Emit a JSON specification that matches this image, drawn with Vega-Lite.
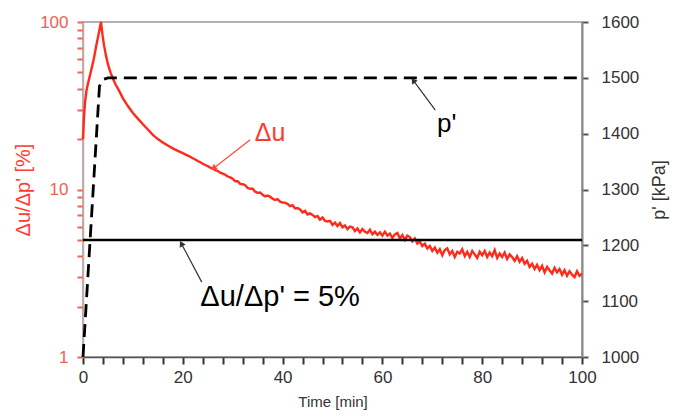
{
  "$schema": "https://vega.github.io/schema/vega-lite/v6.json",
  "width": 499,
  "height": 335,
  "autosize": {"type": "none"},
  "padding": {"left": 83, "top": 22, "right": 98, "bottom": 58},
  "config": {
    "font": "Liberation Sans",
    "view": {"stroke": "#999", "strokeWidth": 1.5},
    "axis": {"ticks": true, "tickSize": 7, "tickWidth": 2, "tickOpacity": 1}
  },
  "datasets": {
    "du": [
      {"t": 0, "v": 20}, {"t": 0.2, "v": 27}, {"t": 0.4, "v": 33}, {"t": 0.7, "v": 39}, {"t": 1.0, "v": 43},
      {"t": 1.4, "v": 48}, {"t": 1.8, "v": 54}, {"t": 2.2, "v": 61}, {"t": 2.6, "v": 71}, {"t": 3.0, "v": 81},
      {"t": 3.3, "v": 90}, {"t": 3.6, "v": 100}, {"t": 3.9, "v": 84}, {"t": 4.2, "v": 73}, {"t": 4.6, "v": 63},
      {"t": 5.0, "v": 56}, {"t": 5.5, "v": 50}, {"t": 6.0, "v": 46}, {"t": 6.5, "v": 42.5}, {"t": 7, "v": 40},
      {"t": 7.5, "v": 37.5}, {"t": 8, "v": 35}, {"t": 9, "v": 31.5}, {"t": 10, "v": 28.6}, {"t": 11, "v": 26.5},
      {"t": 12, "v": 24.5}, {"t": 13, "v": 22.8}, {"t": 14, "v": 21.2}, {"t": 15, "v": 20}, {"t": 16, "v": 19.1},
      {"t": 17, "v": 18.3}, {"t": 18, "v": 17.6}, {"t": 19, "v": 17.0}, {"t": 20, "v": 16.5},
      {"t": 20.5, "v": 16.2}, {"t": 21, "v": 15.95}, {"t": 21.5, "v": 15.7}, {"t": 22, "v": 15.35}, {"t": 22.5, "v": 15.1},
      {"t": 23, "v": 14.8}, {"t": 23.5, "v": 14.55}, {"t": 24, "v": 14.25}, {"t": 24.5, "v": 14.0}, {"t": 25, "v": 13.8},
      {"t": 25.5, "v": 13.5}, {"t": 26, "v": 13.35}, {"t": 26.5, "v": 13.05}, {"t": 27, "v": 12.9}, {"t": 27.5, "v": 12.6},
      {"t": 28, "v": 12.45}, {"t": 28.5, "v": 12.25}, {"t": 29, "v": 11.95}, {"t": 29.5, "v": 11.8}, {"t": 30, "v": 11.6},
      {"t": 30.5, "v": 11.2}, {"t": 31, "v": 11.2}, {"t": 31.5, "v": 10.8}, {"t": 32, "v": 10.75}, {"t": 32.5, "v": 10.6},
      {"t": 33, "v": 10.2}, {"t": 33.5, "v": 10.1}, {"t": 34, "v": 10.1}, {"t": 34.5, "v": 9.7}, {"t": 35, "v": 9.55},
      {"t": 35.5, "v": 9.6}, {"t": 36, "v": 9.3}, {"t": 36.5, "v": 9.1}, {"t": 37, "v": 9.2}, {"t": 37.5, "v": 9.05},
      {"t": 38, "v": 8.8}, {"t": 38.5, "v": 8.65}, {"t": 39, "v": 8.75}, {"t": 39.5, "v": 8.45}, {"t": 40, "v": 8.35},
      {"t": 40.5, "v": 8.35}, {"t": 41, "v": 8.2}, {"t": 41.5, "v": 7.95}, {"t": 42, "v": 8.05}, {"t": 42.5, "v": 7.7},
      {"t": 43, "v": 7.75}, {"t": 43.5, "v": 7.6}, {"t": 44, "v": 7.3}, {"t": 44.5, "v": 7.45}, {"t": 45, "v": 7.1},
      {"t": 45.5, "v": 7.2}, {"t": 46, "v": 7.05}, {"t": 46.5, "v": 6.85}, {"t": 47, "v": 6.95}, {"t": 47.5, "v": 6.6},
      {"t": 48, "v": 6.8}, {"t": 48.5, "v": 6.5}, {"t": 49, "v": 6.45}, {"t": 49.5, "v": 6.5}, {"t": 50, "v": 6.15},
      {"t": 50.5, "v": 6.35}, {"t": 51, "v": 6.05}, {"t": 51.5, "v": 6.3}, {"t": 52, "v": 5.95}, {"t": 52.5, "v": 6.1},
      {"t": 53, "v": 5.8}, {"t": 53.5, "v": 6.0}, {"t": 54, "v": 5.95}, {"t": 54.5, "v": 5.65}, {"t": 55, "v": 5.85},
      {"t": 55.5, "v": 5.55}, {"t": 56, "v": 5.8}, {"t": 56.5, "v": 5.6}, {"t": 57, "v": 5.5}, {"t": 57.5, "v": 5.75},
      {"t": 58, "v": 5.4}, {"t": 58.5, "v": 5.6}, {"t": 59, "v": 5.35}, {"t": 59.5, "v": 5.55}, {"t": 60, "v": 5.3},
      {"t": 60.5, "v": 5.6}, {"t": 61, "v": 5.3}, {"t": 61.5, "v": 5.45}, {"t": 62, "v": 5.15}, {"t": 62.5, "v": 5.4},
      {"t": 63, "v": 5.5}, {"t": 63.5, "v": 5.1}, {"t": 64, "v": 5.35}, {"t": 64.5, "v": 5.0}, {"t": 65, "v": 5.3},
      {"t": 65.5, "v": 5.2}, {"t": 66, "v": 4.9}, {"t": 66.5, "v": 5.1}, {"t": 67, "v": 4.75}, {"t": 67.5, "v": 4.9},
      {"t": 68, "v": 4.6}, {"t": 68.5, "v": 4.75}, {"t": 69, "v": 4.45}, {"t": 69.5, "v": 4.6}, {"t": 70, "v": 4.3},
      {"t": 70.5, "v": 4.5}, {"t": 71, "v": 4.2}, {"t": 71.5, "v": 4.4}, {"t": 72, "v": 4.05}, {"t": 72.5, "v": 4.35},
      {"t": 73, "v": 4.45}, {"t": 73.5, "v": 4.1}, {"t": 74, "v": 4.3}, {"t": 74.5, "v": 3.95}, {"t": 75, "v": 4.25},
      {"t": 75.5, "v": 4.15}, {"t": 76, "v": 4.4}, {"t": 76.5, "v": 4.0}, {"t": 77, "v": 4.25}, {"t": 77.5, "v": 3.95},
      {"t": 78, "v": 4.3}, {"t": 78.5, "v": 4.1}, {"t": 79, "v": 3.9}, {"t": 79.5, "v": 4.25}, {"t": 80, "v": 4.05},
      {"t": 80.5, "v": 4.3}, {"t": 81, "v": 3.95}, {"t": 81.5, "v": 4.2}, {"t": 82, "v": 4.0}, {"t": 82.5, "v": 4.35},
      {"t": 83, "v": 3.9}, {"t": 83.5, "v": 4.15}, {"t": 84, "v": 3.95}, {"t": 84.5, "v": 4.2}, {"t": 85, "v": 3.85},
      {"t": 85.5, "v": 4.1}, {"t": 86, "v": 3.95}, {"t": 86.5, "v": 3.75}, {"t": 87, "v": 4.0}, {"t": 87.5, "v": 3.7},
      {"t": 88, "v": 3.9}, {"t": 88.5, "v": 3.6}, {"t": 89, "v": 3.75}, {"t": 89.5, "v": 3.45}, {"t": 90, "v": 3.6},
      {"t": 90.5, "v": 3.35}, {"t": 91, "v": 3.55}, {"t": 91.5, "v": 3.3}, {"t": 92, "v": 3.5}, {"t": 92.5, "v": 3.2},
      {"t": 93, "v": 3.45}, {"t": 93.5, "v": 3.3}, {"t": 94, "v": 3.15}, {"t": 94.5, "v": 3.4}, {"t": 95, "v": 3.2},
      {"t": 95.5, "v": 3.35}, {"t": 96, "v": 3.1}, {"t": 96.5, "v": 3.3}, {"t": 97, "v": 3.05}, {"t": 97.5, "v": 3.25},
      {"t": 98, "v": 3.1}, {"t": 98.5, "v": 3.0}, {"t": 99, "v": 3.25}, {"t": 99.5, "v": 3.05}, {"t": 100, "v": 3.15}
    ],
    "pp": [
      {"t": 0, "p": 1000}, {"t": 3.3, "p": 1485}, {"t": 4, "p": 1497}, {"t": 5, "p": 1500}, {"t": 100, "p": 1500}
    ]
  },
  "encoding": {
    "x": {
      "field": "t",
      "type": "quantitative",
      "scale": {"domain": [0, 100], "nice": false, "zero": false},
      "axis": {
        "title": "Time [min]",
        "values": [0, 4, 8, 12, 16, 20, 24, 28, 32, 36, 40, 44, 48, 52, 56, 60, 64, 68, 72, 76, 80, 84, 88, 92, 96, 100],
        "labelExpr": "datum.value % 20 === 0 ? datum.label : ''",
        "labelFlush": false,
        "labelOverlap": false,
        "grid": false,
        "ticks": true,
        "domainColor": "#555",
        "domainWidth": 1.5,
        "tickColor": "#333",
        "tickWidth": 2,
        "tickSize": 7,
        "labelFontSize": 17,
        "labelColor": "#333",
        "labelPadding": 5,
        "titleFontSize": 15,
        "titleFontWeight": "normal",
        "titleColor": "#333",
        "titlePadding": 9
      }
    }
  },
  "layer": [
    {
      "encoding": {
        "y": {
          "field": "v",
          "type": "quantitative",
          "scale": {"type": "log", "domain": [1, 100], "nice": false},
          "axis": {
            "title": "Δu/Δp'  [%]",
            "orient": "left",
            "values": [1, 2, 3, 4, 5, 6, 7, 8, 9, 10, 20, 30, 40, 50, 60, 70, 80, 90, 100],
            "labelExpr": "(datum.value === 1 || datum.value === 10 || datum.value === 100) ? datum.label : ''",
            "labelOverlap": false,
            "grid": false,
            "ticks": true,
            "domainColor": "#c9aaaa",
            "domainWidth": 1.5,
            "tickColor": "#f0604f",
            "tickWidth": 2,
            "tickSize": 6,
            "labelColor": "#f0604f",
            "labelFontSize": 17,
            "labelPadding": 9,
            "titleColor": "#ff3b2f",
            "titleFontSize": 20,
            "titleFontWeight": "normal",
            "titlePadding": 6
          }
        }
      },
      "layer": [
        {
          "data": {"name": "du"},
          "mark": {"type": "line", "color": "#ff2a1a", "strokeWidth": 2.4}
        },
        {
          "data": {"values": [{"t": 0, "t2": 100, "v": 5}]},
          "mark": {"type": "rule", "color": "#000", "strokeWidth": 2.5},
          "encoding": {"x2": {"field": "t2"}}
        },
        {
          "data": {"values": [{"t": 37.5, "v": 21.7, "label": "Δu"}]},
          "mark": {"type": "text", "color": "#ff3b2f", "fontSize": 25, "align": "center", "baseline": "middle"},
          "encoding": {"text": {"field": "label"}}
        },
        {
          "data": {"values": [{"t": 33.5, "v": 19.8, "t2": 26.3, "v2": 13.5}]},
          "mark": {"type": "rule", "color": "#ff4a3a", "strokeWidth": 1.2},
          "encoding": {"x2": {"field": "t2"}, "y2": {"field": "v2"}}
        },
        {
          "data": {"values": [{"t": 26.3, "v": 13.5}]},
          "mark": {"type": "point", "shape": "triangle", "angle": 233, "filled": true, "size": 45, "color": "#ff4a3a", "opacity": 1}
        },
        {
          "data": {"values": [{"t": 39.5, "v": 2.28, "label": "Δu/Δp' = 5%"}]},
          "mark": {"type": "text", "color": "#000", "fontSize": 29, "align": "center", "baseline": "middle"},
          "encoding": {"text": {"field": "label"}}
        },
        {
          "data": {"values": [{"t": 23.8, "v": 2.8, "t2": 19.8, "v2": 4.7}]},
          "mark": {"type": "rule", "color": "#333", "strokeWidth": 1.2},
          "encoding": {"x2": {"field": "t2"}, "y2": {"field": "v2"}}
        },
        {
          "data": {"values": [{"t": 19.8, "v": 4.7}]},
          "mark": {"type": "point", "shape": "triangle", "angle": 332, "filled": true, "size": 45, "color": "#333", "opacity": 1}
        }
      ]
    },
    {
      "encoding": {
        "y": {
          "field": "p",
          "type": "quantitative",
          "scale": {"domain": [1000, 1600], "nice": false, "zero": false},
          "axis": {
            "title": "p' [kPa]",
            "orient": "right",
            "values": [1000, 1100, 1200, 1300, 1400, 1500, 1600],
            "format": "d",
            "grid": false,
            "ticks": true,
            "domainColor": "#888",
            "domainWidth": 2,
            "tickColor": "#555",
            "tickWidth": 2,
            "tickSize": 6,
            "labelColor": "#333",
            "labelFontSize": 17,
            "labelPadding": 13,
            "titleColor": "#333",
            "titleFontSize": 18,
            "titleFontWeight": "normal",
            "titleAngle": -90,
            "titleBaseline": "top",
            "titlePadding": 12
          }
        }
      },
      "layer": [
        {
          "data": {"name": "pp"},
          "mark": {"type": "line", "color": "#000", "strokeWidth": 2.8, "strokeDash": [13, 7]}
        },
        {
          "data": {"values": [{"t": 72.9, "p": 1418, "label": "p'"}]},
          "mark": {"type": "text", "color": "#000", "fontSize": 26, "align": "center", "baseline": "middle"},
          "encoding": {"text": {"field": "label"}}
        },
        {
          "data": {"values": [{"t": 70.6, "p": 1442, "t2": 66.3, "p2": 1494}]},
          "mark": {"type": "rule", "color": "#333", "strokeWidth": 1.2},
          "encoding": {"x2": {"field": "t2"}, "y2": {"field": "p2"}}
        },
        {
          "data": {"values": [{"t": 66.3, "p": 1494}]},
          "mark": {"type": "point", "shape": "triangle", "angle": 324, "filled": true, "size": 45, "color": "#333", "opacity": 1}
        }
      ]
    }
  ],
  "resolve": {"scale": {"y": "independent"}}
}
